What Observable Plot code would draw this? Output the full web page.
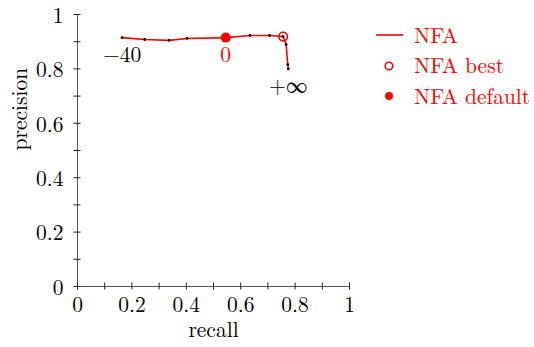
<!DOCTYPE html>
<html><head><meta charset="utf-8">
<script src="https://cdn.jsdelivr.net/npm/d3@7"></script>
<script src="https://cdn.jsdelivr.net/npm/@observablehq/plot@0.6"></script>
<style>
body{margin:0;background:#fff;}
#wrap{position:relative;width:534px;height:347px;}
#legend{position:absolute;left:372px;top:20px;font-family:"Latin Modern Roman","Liberation Serif",serif;font-size:21.5px;color:#ff0000;}
#legend .row{display:flex;align-items:center;height:30.5px;line-height:30px;}
#legend svg{width:34px;height:20px;margin-right:8px;}
#legend span{position:relative;top:-1.5px;}
</style></head><body><div id="wrap"><div id="legend"></div></div>
<script>
// data
const recall    = [0.164, 0.247, 0.337, 0.403, 0.545, 0.634, 0.706, 0.756, 0.767, 0.773, 0.775];
const precision = [0.915, 0.908, 0.905, 0.912, 0.915, 0.923, 0.923, 0.919, 0.890, 0.816, 0.800];
const defaultIndex = 4;
const bestIndex = 7;
const labelIndex = [0, 4, 10];
const labelText  = ["\u221240", "0", "+\u221e"];
const xTickLabels = [0, 0.2, 0.4, 0.6, 0.8, 1];
const yTickLabels = [0, 0.2, 0.4, 0.6, 0.8, 1];
const minorTicks  = [0, 0.1, 0.2, 0.3, 0.4, 0.5, 0.6, 0.7, 0.8, 0.9, 1];
const legendNames = ["NFA", "NFA best", "NFA default"];

const RED = "#ff0000";
const FONT = "'Latin Modern Roman', 'Liberation Serif', serif";
const FS = 21.5;
const data = recall.map((r, i) => ({recall: r, precision: precision[i]}));
const labels = labelIndex.map((i, k) => ({...data[i], text: labelText[k], isDefault: i === defaultIndex}));
const fmt = d => String(+d.toFixed(1));

const chart = Plot.plot({
  width: 534, height: 347,
  marginLeft: 77, marginRight: 185, marginTop: 14, marginBottom: 61,
  x: {domain: [0, 1]},
  y: {domain: [0, 1]},
  style: {fontFamily: FONT, fontSize: FS + "px", color: "black", background: "white", overflow: "visible"},
  marks: [
    Plot.axisX({ticks: xTickLabels, tickSize: 0, tickPadding: 10.6, tickFormat: fmt, label: null, fontSize: FS}),
    Plot.axisY({ticks: yTickLabels, tickSize: 0, tickPadding: 14, tickFormat: fmt, label: null, fontSize: FS, dy: 1.5}),
    Plot.ruleY([0], {stroke: "#555", strokeWidth: 1}),
    Plot.ruleX([0], {stroke: "#555", strokeWidth: 1}),
    Plot.ruleX(minorTicks, {x: d => d, y1: 0, y2: 0, insetTop: -3.5, insetBottom: -3.5, stroke: "#222", strokeWidth: 1}),
    Plot.ruleY(minorTicks, {y: d => d, x1: 0, x2: 0, insetLeft: -3.5, insetRight: -3.5, stroke: "#222", strokeWidth: 1}),
    Plot.text(["recall"], {frameAnchor: "bottom", text: d => d, dy: 44.1, lineAnchor: "middle", fontSize: FS}),
    Plot.text(["precision"], {frameAnchor: "left", text: d => d, dx: -57.4, rotate: -90, lineAnchor: "middle", fontSize: FS}),
    Plot.line(data, {x: "recall", y: "precision", stroke: RED, strokeWidth: 1.6}),
    Plot.dot(data, {x: "recall", y: "precision", r: 1.4, fill: "black", stroke: null}),
    Plot.dot([data[defaultIndex]], {x: "recall", y: "precision", r: 5, fill: RED, stroke: null}),
    Plot.dot([data[bestIndex]], {x: "recall", y: "precision", r: 4.3, fill: "none", stroke: RED, strokeWidth: 1.6}),
    Plot.text(labels, {x: "recall", y: "precision", text: "text", dy: 17, lineAnchor: "middle",
      fill: d => d.isDefault ? RED : "black", fontSize: FS})
  ]
});
document.getElementById("wrap").prepend(chart);

const legendSymbols = [
  '<line x1="4" x2="31" y1="10" y2="10" stroke="#ff0000" stroke-width="1.6"/>',
  '<circle cx="17" cy="10" r="3.8" fill="none" stroke="#ff0000" stroke-width="1.6"/>',
  '<circle cx="17" cy="10" r="4" fill="#ff0000"/>'
];
const legend = document.getElementById("legend");
legendNames.forEach((n, i) => {
  const row = document.createElement("div");
  row.className = "row";
  row.innerHTML = `<svg viewBox="0 0 34 20">${legendSymbols[i]}</svg><span>${n}</span>`;
  legend.appendChild(row);
});
</script>
</body></html>
